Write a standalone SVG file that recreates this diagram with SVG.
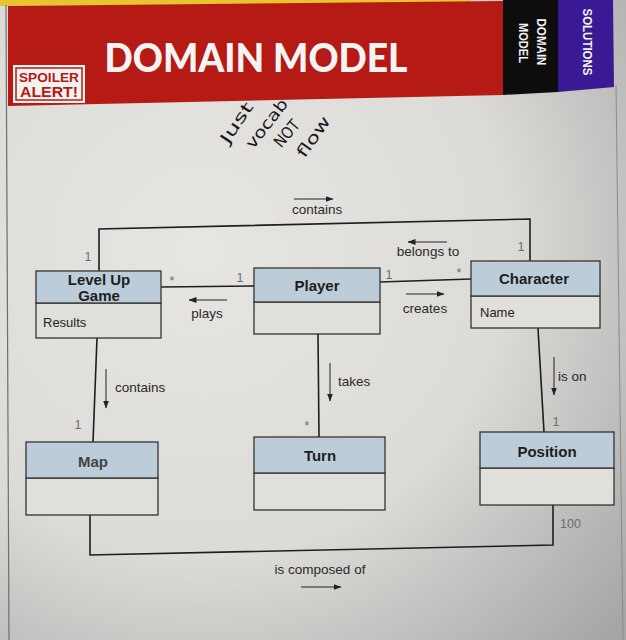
<svg xmlns="http://www.w3.org/2000/svg" width="626" height="640" viewBox="0 0 626 640">
<defs>
  <radialGradient id="page" cx="200" cy="250" r="560" gradientUnits="userSpaceOnUse">
    <stop offset="0" stop-color="#e6e5e1"/>
    <stop offset="0.55" stop-color="#dcdbd7"/>
    <stop offset="1" stop-color="#a6a6a6"/>
  </radialGradient>
  <marker id="ah" viewBox="0 0 8 6" refX="7.5" refY="3" markerWidth="8" markerHeight="6" markerUnits="userSpaceOnUse" orient="auto">
    <path d="M0,0 L8,3 L0,6 z" fill="#222"/>
  </marker>
  <style>
    .hdr{fill:#bccdd9;stroke:#333;stroke-width:1.3}
    .body{fill:#e0dfda;stroke:#333;stroke-width:1.3}
    .cn{font-family:"Liberation Sans",Arial,sans-serif;font-weight:bold;font-size:15px;fill:#1e1e1e;text-anchor:middle}
    .attr{font-family:"Liberation Sans",Arial,sans-serif;font-size:13px;fill:#1e1e1e}
    .lbl{font-family:"Liberation Sans",Arial,sans-serif;font-size:13.5px;fill:#2a2a2a}
    .mul{font-family:"Liberation Sans",Arial,sans-serif;font-size:12.5px;fill:#6e6e6e;text-anchor:middle}
    .line{fill:none;stroke:#1e1e1e;stroke-width:1.6}
    .dir{fill:none;stroke:#222;stroke-width:1;marker-end:url(#ah)}
    .hand{font-family:"DejaVu Sans",sans-serif;font-size:16px;fill:#1a1a1a;text-anchor:middle}
    .tab{font-family:"Liberation Sans",Arial,sans-serif;font-weight:bold;font-size:12px;fill:#f2f2f2;text-anchor:middle}
  </style>
</defs>

<!-- page background -->
<rect x="0" y="0" width="626" height="640" fill="url(#page)"/>
<polygon points="0,0 470,0 470,3 0,6" fill="#e8c530"/>
<line x1="6" y1="5" x2="9" y2="640" stroke="#6e6e6e" stroke-width="1.2"/>
<line x1="616" y1="85" x2="623" y2="640" stroke="#8a8a8a" stroke-width="1"/>

<!-- header banner -->
<g id="banner">
  <polygon points="8,6 503,1 503,95 8,106" fill="#b51a14"/>
  <polygon points="503,0 558,0 558,92 503,95" fill="#0d0d0d"/>
  <polygon points="558,0 613,0 614,87 558,92" fill="#3a1a94"/>
  <text x="256" y="72" font-family="Lato,'Liberation Sans',sans-serif" font-weight="900" font-size="40" fill="#f4f4f4" text-anchor="middle" textLength="303" lengthAdjust="spacingAndGlyphs">DOMAIN MODEL</text>
  <g id="spoiler">
    <rect x="13" y="65" width="72" height="38" fill="#f4f2f0"/>
    <rect x="16" y="68" width="66" height="32" fill="none" stroke="#b51a14" stroke-width="1.5"/>
    <text x="49" y="82" font-family="'Liberation Sans',Arial,sans-serif" font-weight="bold" font-size="13" fill="#b51a14" text-anchor="middle" textLength="60" lengthAdjust="spacingAndGlyphs">SPOILER</text>
    <text x="49" y="97" font-family="'Liberation Sans',Arial,sans-serif" font-weight="bold" font-size="14" fill="#b51a14" text-anchor="middle" textLength="58" lengthAdjust="spacingAndGlyphs">ALERT!</text>
  </g>
  <text class="tab" transform="translate(537,42) rotate(90)" textLength="47" lengthAdjust="spacingAndGlyphs">DOMAIN</text>
  <text class="tab" transform="translate(519,43) rotate(90)" textLength="40" lengthAdjust="spacingAndGlyphs">MODEL</text>
  <text class="tab" transform="translate(583,42) rotate(90)" textLength="67" lengthAdjust="spacingAndGlyphs">SOLUTIONS</text>
</g>

<!-- handwritten note -->
<g id="note">
  <text class="hand" transform="translate(241,126) rotate(-56)" textLength="46" lengthAdjust="spacingAndGlyphs">Just</text>
  <text class="hand" transform="translate(271,127) rotate(-52)" textLength="58" lengthAdjust="spacingAndGlyphs">vocab</text>
  <text class="hand" transform="translate(291,137) rotate(-50)" textLength="30" lengthAdjust="spacingAndGlyphs">NOT</text>
  <text class="hand" transform="translate(318,140) rotate(-55)" textLength="46" lengthAdjust="spacingAndGlyphs">flow</text>
</g>

<!-- connectors -->
<g id="connectors">
  <polyline class="line" points="99,271 99,229 530,219 530,261"/>
  <line class="line" x1="161" y1="287" x2="254" y2="286"/>
  <line class="line" x1="380" y1="282" x2="471" y2="279"/>
  <line class="line" x1="97" y1="338" x2="93" y2="442"/>
  <line class="line" x1="318" y1="334" x2="319" y2="437"/>
  <line class="line" x1="538" y1="328" x2="544" y2="432"/>
  <polyline class="line" points="90,515 90,555 553,545 553,505"/>

  <line class="dir" x1="294" y1="199" x2="333" y2="199"/>
  <text class="lbl" x="292" y="214">contains</text>
  <line class="dir" x1="447" y1="242" x2="408" y2="242"/>
  <text class="lbl" x="428" y="256" text-anchor="middle">belongs to</text>
  <line class="dir" x1="227" y1="300" x2="189" y2="300"/>
  <text class="lbl" x="207" y="318" text-anchor="middle">plays</text>
  <line class="dir" x1="406" y1="294" x2="444" y2="294"/>
  <text class="lbl" x="425" y="313" text-anchor="middle">creates</text>
  <line class="dir" x1="106" y1="369" x2="106" y2="408"/>
  <text class="lbl" x="115" y="392">contains</text>
  <line class="dir" x1="330" y1="363" x2="330" y2="401"/>
  <text class="lbl" x="338" y="386">takes</text>
  <line class="dir" x1="554" y1="357" x2="554" y2="395"/>
  <text class="lbl" x="558" y="381">is on</text>
  <text class="lbl" x="320" y="574" text-anchor="middle">is composed of</text>
  <line class="dir" x1="301" y1="587" x2="341" y2="587"/>

  <text class="mul" x="88" y="261">1</text>
  <text class="mul" x="521" y="251">1</text>
  <text class="mul" x="172" y="285">*</text>
  <text class="mul" x="240" y="282">1</text>
  <text class="mul" x="389" y="279">1</text>
  <text class="mul" x="459" y="277">*</text>
  <text class="mul" x="78" y="429">1</text>
  <text class="mul" x="307" y="430">*</text>
  <text class="mul" x="556" y="426">1</text>
  <text class="mul" x="560" y="528" style="text-anchor:start">100</text>
</g>

<!-- nodes -->
<g id="level-up-game">
  <rect class="body" x="36" y="303" width="125" height="35"/>
  <rect class="hdr" x="36" y="271" width="125" height="32"/>
  <text class="cn" x="99" y="285">Level Up</text>
  <text class="cn" x="99" y="301">Game</text>
  <text class="attr" x="43" y="327">Results</text>
</g>
<g id="player">
  <rect class="body" x="254" y="302" width="126" height="32"/>
  <rect class="hdr" x="254" y="268" width="126" height="34"/>
  <text class="cn" x="317" y="291">Player</text>
</g>
<g id="character">
  <rect class="body" x="471" y="296" width="129" height="32"/>
  <rect class="hdr" x="471" y="261" width="129" height="35"/>
  <text class="cn" x="534" y="284">Character</text>
  <text class="attr" x="480" y="317">Name</text>
</g>
<g id="map">
  <rect class="body" x="26" y="478" width="132" height="37"/>
  <rect class="hdr" x="26" y="442" width="132" height="36"/>
  <text class="cn" x="93" y="467" style="fill:#444">Map</text>
</g>
<g id="turn">
  <rect class="body" x="254" y="473" width="131" height="37"/>
  <rect class="hdr" x="254" y="437" width="131" height="36"/>
  <text class="cn" x="320" y="461">Turn</text>
</g>
<g id="position">
  <rect class="body" x="480" y="468" width="134" height="37"/>
  <rect class="hdr" x="480" y="432" width="134" height="36"/>
  <text class="cn" x="547" y="457">Position</text>
</g>
</svg>
